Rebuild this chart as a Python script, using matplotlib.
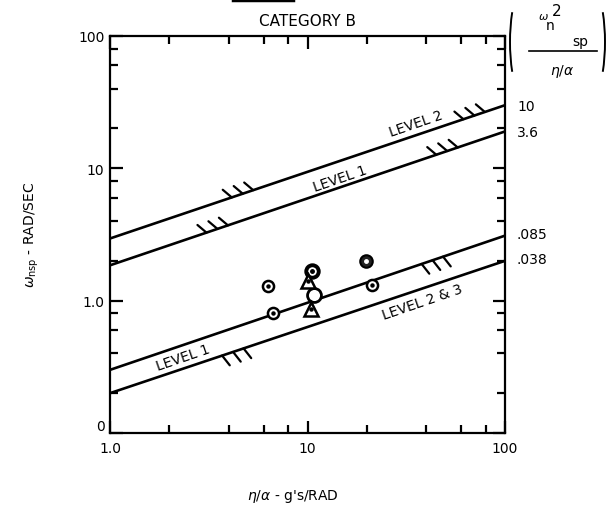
import matplotlib
matplotlib.use("Agg")
import matplotlib.pyplot as plt
from matplotlib.patches import Arc
from matplotlib.lines import Line2D
import numpy as np

# boundary lines, read at eta/alpha = 1 and 100
x_ends = [1.0, 100.0]
line_names = ["10", "3.6", ".085", ".038"]
y_at_1 = [2.95, 1.85, 0.30, 0.20]
y_at_100 = [30.0, 19.0, 3.1, 2.0]

# level labels
level_text = ["LEVEL 2", "LEVEL 1", "LEVEL 1", "LEVEL 2 & 3"]
level_x = [35.3, 14.7, 2.35, 38.3]
level_y = [21.9, 8.4, 0.377, 0.98]

# hatch groups (which line, where along it, which side)
hatch_line = [0, 0, 1, 1, 2, 3]
hatch_x = [4.7, 70.0, 3.5, 51.0, 43.0, 4.2]
hatch_side = [1, 1, 1, 1, -1, -1]

# test points
dotc_x = [6.3, 6.7, 21.1]
dotc_y = [1.28, 0.80, 1.32]
boldc_x = [10.5]
boldc_y = [1.69]
darkc_x = [19.7]
darkc_y = [2.0]
openc_x = [10.8]
openc_y = [1.11]
tri_x = [10.0, 10.4]
tri_y = [1.42, 0.87]

fig = plt.figure(figsize=(6.06, 5.10), dpi=100)
ax = fig.add_axes([110 / 606, 1 - 434 / 510, 395 / 606, 397 / 510])
ax.set_xscale("log")
ax.set_yscale("log")
ax.set_xlim(1, 100)
ax.set_ylim(0.1, 100)


def line_y(i, x):
    # straight line on log-log through the two read end values
    t = np.log10(x) / 2.0
    return 10 ** (np.log10(y_at_1[i]) * (1 - t) + np.log10(y_at_100[i]) * t)


for i in range(len(line_names)):
    ax.plot(x_ends, [y_at_1[i], y_at_100[i]], color="black", lw=1.9, zorder=2)

for i in range(len(hatch_line)):
    for f in [0.88, 1.0, 1.13]:
        xx = hatch_x[i] * f
        yy = line_y(hatch_line[i], xx)
        if hatch_side[i] > 0:
            off = (-6.5, 5.5)
        else:
            off = (5.5, -7)
        ax.annotate("", xy=(xx, yy), xytext=off, textcoords="offset points",
                    arrowprops=dict(arrowstyle="-", lw=1.6, color="black",
                                    shrinkA=0, shrinkB=0))

for i in range(len(level_text)):
    ax.text(level_x[i], level_y[i], level_text[i], rotation=19, fontsize=10,
            ha="center", va="center", rotation_mode="anchor")

ax.plot(dotc_x, dotc_y, "o", ms=8, mfc="white", mec="black", mew=1.8, zorder=4)
ax.plot(dotc_x, dotc_y, "o", ms=2.2, color="black", zorder=5)
ax.plot(boldc_x, boldc_y, "o", ms=9, mfc="white", mec="black", mew=2.8, zorder=4)
ax.plot(boldc_x, boldc_y, "o", ms=2.5, color="black", zorder=5)
ax.plot(darkc_x, darkc_y, "o", ms=9, mfc="#222222", mec="black", mew=1.5, zorder=4)
ax.plot(darkc_x, darkc_y, "o", ms=2.5, color="white", zorder=5)
ax.plot(openc_x, openc_y, "o", ms=10, mfc="white", mec="black", mew=2.0, zorder=4)
ax.plot(tri_x, tri_y, "^", ms=10, mfc="white", mec="black", mew=1.8, zorder=4)
ax.plot(tri_x, tri_y, "o", ms=2.2, color="black", zorder=5)

ax.set_xticks([1, 10, 100])
ax.set_xticklabels(["1.0", "10", "100"])
ax.set_yticks([0.1, 1, 10, 100])
ax.set_yticklabels(["0", "1.0", "10", "100"])
ax.xaxis.set_minor_locator(matplotlib.ticker.LogLocator(subs=(2, 4, 6, 8)))
ax.yaxis.set_minor_locator(matplotlib.ticker.LogLocator(subs=(2, 4, 6, 8)))
ax.xaxis.set_minor_formatter(matplotlib.ticker.NullFormatter())
ax.yaxis.set_minor_formatter(matplotlib.ticker.NullFormatter())
ax.tick_params(which="both", direction="in", top=True, right=True, labelsize=10,
               width=1.6, color="black")
ax.tick_params(which="major", length=9, pad=4)
ax.tick_params(which="minor", length=6)
ax.tick_params(axis="x", which="major", pad=6)
ax.tick_params(axis="y", which="both", labelright=False)
ax.get_yticklabels()[0].set_va("bottom")
for s in ax.spines.values():
    s.set_linewidth(1.6)

ax.set_title("CATEGORY B", fontsize=11, pad=8)
fig.text(293 / 606, 1 - 497 / 510, r"$\eta/\alpha$ - g's/RAD", fontsize=10,
         ha="center", va="center")
fig.text(32 / 606, 1 - 235 / 510, r"$\omega_{\rm nsp}$ - RAD/SEC", fontsize=10,
         ha="center", va="center", rotation=90)

# k values beside the right axis
right_lab_y = [107, 133, 235, 260]
for i in range(len(line_names)):
    fig.text(517 / 606, 1 - right_lab_y[i] / 510, line_names[i], fontsize=10,
             ha="left", va="center")

# the bracketed parameter in the top-right corner
def px(x, y):
    return (x / 606, 1 - y / 510)


fig.add_artist(Arc(px(537, 43), 54 / 606, 150 / 510, theta1=125, theta2=235,
                   lw=1.4, color="black", transform=fig.transFigure))
fig.add_artist(Arc(px(578, 43), 54 / 606, 150 / 510, theta1=-55, theta2=55,
                   lw=1.4, color="black", transform=fig.transFigure))
fig.text(*px(543, 17), r"$\omega$", fontsize=8, ha="center", va="center")
fig.text(*px(550, 26), "n", fontsize=10, ha="center", va="center")
fig.text(*px(557, 12), "2", fontsize=11, ha="center", va="center")
fig.text(*px(580, 42), "sp", fontsize=10, ha="center", va="center")
fig.add_artist(Line2D([529 / 606, 597 / 606], [1 - 52 / 510, 1 - 52 / 510],
                      lw=1.2, color="black"))
fig.text(*px(562, 72), r"$\eta/\alpha$", fontsize=10, ha="center", va="center")

# bit of a frame cut off at the top of the page
fig.add_artist(Line2D([233 / 606, 293 / 606], [1 - 1 / 510, 1 - 1 / 510],
                      lw=2.5, color="black"))

fig.savefig("out.png", dpi=100)
